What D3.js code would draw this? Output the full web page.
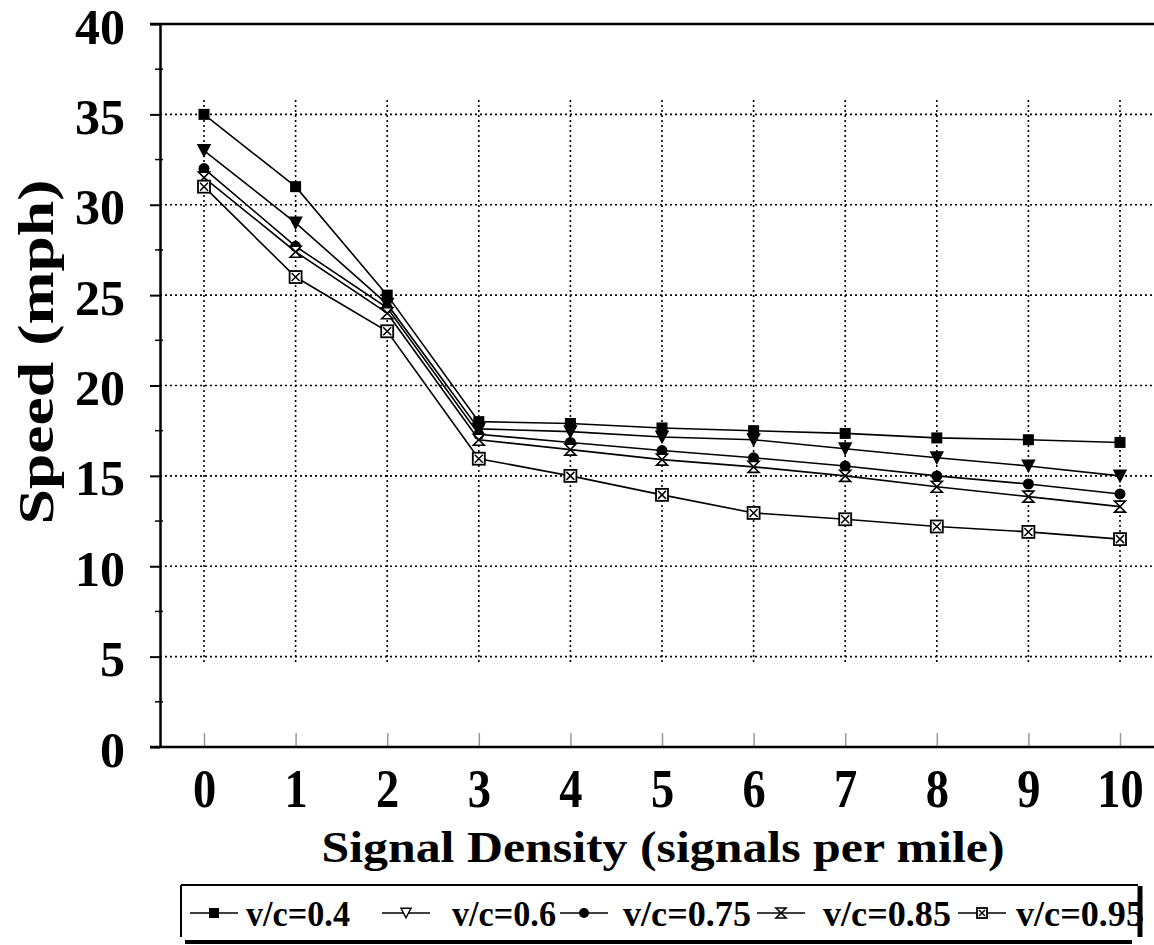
<!DOCTYPE html>
<html>
<head>
<meta charset="utf-8">
<script src="https://cdn.jsdelivr.net/npm/d3@7"></script>
<style>
  body { margin: 0; background: #fff; }
  text { font-family: "Liberation Serif", "Times New Roman", serif; font-weight: bold; fill: #000; }
</style>
</head>
<body>
<div id="chart"></div>
<script>
// data
const density = [0, 1, 2, 3, 4, 5, 6, 7, 8, 9, 10];
const vc04  = [35, 31, 25, 18, 17.9, 17.65, 17.5, 17.35, 17.1, 17.0, 16.85];
const vc06  = [33, 29, 24.5, 17.6, 17.45, 17.15, 17.0, 16.5, 16.0, 15.55, 15.0];
const vc075 = [32, 27.7, 24.3, 17.3, 16.85, 16.4, 16.0, 15.55, 15.0, 14.55, 14.0];
const vc085 = [31.5, 27.4, 24.0, 17.0, 16.45, 15.9, 15.5, 15.0, 14.4, 13.85, 13.3];
const vc095 = [31, 26, 23, 15.95, 15.0, 13.95, 12.95, 12.6, 12.2, 11.9, 11.5];
const seriesNames = ["v/c=0.4", "v/c=0.6", "v/c=0.75", "v/c=0.85", "v/c=0.95"];
const yTicks = [0, 5, 10, 15, 20, 25, 30, 35, 40];
const xTicks = [0, 1, 2, 3, 4, 5, 6, 7, 8, 9, 10];

const series = [vc04, vc06, vc075, vc085, vc095];
const markers = ["square", "triangle", "circle", "hourglass", "boxx"];

const W = 1154, H = 945;
const axisX = 160;

const svg = d3.select("#chart").append("svg")
  .attr("width", W)
  .attr("height", H);

const x = d3.scaleLinear().domain([0, 10]).range([204, 1120]);
const y = d3.scaleLinear().domain([0, 40]).range([747, 24]);

// dotted grid
svg.append("g").selectAll("line")
  .data(yTicks.filter(d => d > 0 && d < 40))
  .enter().append("line")
  .attr("x1", axisX).attr("x2", W)
  .attr("y1", d => y(d)).attr("y2", d => y(d))
  .attr("stroke", "#000").attr("stroke-width", 1.6)
  .attr("stroke-dasharray", "2,3");

svg.append("g").selectAll("line")
  .data(xTicks)
  .enter().append("line")
  .attr("x1", d => x(d)).attr("x2", d => x(d))
  .attr("y1", y(35.8)).attr("y2", y(4.7))
  .attr("stroke", "#000").attr("stroke-width", 1.6)
  .attr("stroke-dasharray", "2,3");

// top border
svg.append("line")
  .attr("x1", 150).attr("x2", W)
  .attr("y1", y(40)).attr("y2", y(40))
  .attr("stroke", "#000").attr("stroke-width", 2.5);

// y axis
const yAxis = svg.append("g")
  .attr("transform", "translate(" + axisX + ",0)")
  .call(d3.axisLeft(y).tickValues(yTicks).tickSize(10).tickSizeOuter(0).tickPadding(25));
yAxis.select(".domain").attr("stroke-width", 2.5);
yAxis.selectAll(".tick line").attr("stroke-width", 2);
yAxis.selectAll("text")
  .attr("font-size", 50)
  .attr("font-family", null)
  .attr("y", 3);

// minor ticks on y
svg.append("g").selectAll("line")
  .data(d3.range(2.5, 40, 5))
  .enter().append("line")
  .attr("x1", axisX - 5).attr("x2", axisX + 3)
  .attr("y1", d => y(d)).attr("y2", d => y(d))
  .attr("stroke", "#000").attr("stroke-width", 1.5);

// x axis
const xAxis = svg.append("g")
  .attr("transform", "translate(0," + y(0) + ")")
  .call(d3.axisBottom(x).tickValues(xTicks).tickSize(-14).tickSizeOuter(0).tickPadding(22));
xAxis.select(".domain").remove();
xAxis.selectAll(".tick line").attr("stroke", "#999").attr("stroke-width", 1.5);
xAxis.selectAll("text")
  .attr("font-size", 54)
  .attr("font-family", null)
  .attr("transform", "scale(0.86,1)");

svg.append("line")
  .attr("x1", 150).attr("x2", W)
  .attr("y1", y(0)).attr("y2", y(0))
  .attr("stroke", "#000").attr("stroke-width", 2.5);

// axis titles
svg.append("text")
  .attr("transform", "translate(53,352) rotate(-90)")
  .attr("text-anchor", "middle")
  .attr("font-size", 50)
  .attr("textLength", 345)
  .attr("lengthAdjust", "spacingAndGlyphs")
  .text("Speed (mph)");

svg.append("text")
  .attr("x", 663).attr("y", 862)
  .attr("text-anchor", "middle")
  .attr("font-size", 45)
  .attr("textLength", 683)
  .attr("lengthAdjust", "spacingAndGlyphs")
  .text("Signal Density (signals per mile)");

// marker drawing
function drawMarker(g, type, s, legend) {
  const a = s / 2;
  if (type === "square") {
    g.append("rect").attr("x", -a).attr("y", -a).attr("width", s).attr("height", s)
      .attr("fill", "#000");
  } else if (type === "triangle") {
    const h = s * 0.95;
    g.append("path")
      .attr("d", `M${-a},${-h / 2}L${a},${-h / 2}L0,${h / 2}Z`)
      .attr("fill", legend ? "#fff" : "#000").attr("stroke", "#000").attr("stroke-width", 1.5);
  } else if (type === "circle") {
    g.append("circle").attr("r", a).attr("fill", "#000");
  } else if (type === "hourglass") {
    g.append("path")
      .attr("d", `M${-a},${-a}L${a},${-a}L${-a},${a}L${a},${a}Z`)
      .attr("fill", "#fff").attr("stroke", "#000").attr("stroke-width", 1.6);
  } else {
    g.append("rect").attr("x", -a).attr("y", -a).attr("width", s).attr("height", s)
      .attr("fill", "#fff").attr("stroke", "#000").attr("stroke-width", 1.8);
    g.append("path")
      .attr("d", `M${-a + 2},${-a + 2}L${a - 2},${a - 2}M${a - 2},${-a + 2}L${-a + 2},${a - 2}`)
      .attr("stroke", "#000").attr("stroke-width", 1.5);
  }
}

const markerSize = [11, 12, 11, 11, 12];

const line = d3.line()
  .x((d, i) => x(density[i]))
  .y(d => y(d));

series.forEach(vals => {
  svg.append("path")
    .datum(vals)
    .attr("d", line)
    .attr("fill", "none")
    .attr("stroke", "#000")
    .attr("stroke-width", 1.6);
});

series.forEach((vals, k) => {
  svg.append("g").selectAll("g")
    .data(vals)
    .enter().append("g")
    .attr("transform", (d, i) => "translate(" + x(density[i]) + "," + y(d) + ")")
    .each(function() { drawMarker(d3.select(this), markers[k], markerSize[k], false); });
});

// legend box with shadow edges
const lg = svg.append("g");
lg.append("line").attr("x1", 181).attr("x2", 1138).attr("y1", 885).attr("y2", 885)
  .attr("stroke", "#000").attr("stroke-width", 2);
lg.append("line").attr("x1", 181).attr("x2", 181).attr("y1", 885).attr("y2", 937)
  .attr("stroke", "#000").attr("stroke-width", 2);
lg.append("line").attr("x1", 1140).attr("x2", 1140).attr("y1", 886).attr("y2", 937)
  .attr("stroke", "#000").attr("stroke-width", 5);
lg.append("line").attr("x1", 185).attr("x2", 1132).attr("y1", 942).attr("y2", 942)
  .attr("stroke", "#000").attr("stroke-width", 4);

const lineStart = [190, 382, 560, 757, 958];
const textStart = [246, 452, 623, 823, 1016];

seriesNames.forEach((name, k) => {
  const it = lg.append("g");
  it.append("line")
    .attr("x1", lineStart[k]).attr("x2", lineStart[k] + 48)
    .attr("y1", 913).attr("y2", 913)
    .attr("stroke", "#000").attr("stroke-width", 1.6);
  const m = it.append("g").attr("transform", "translate(" + (lineStart[k] + 24) + ",913)");
  drawMarker(m, markers[k], 10, true);
  it.append("text")
    .attr("x", textStart[k]).attr("y", 926)
    .attr("font-size", 35)
    .attr("textLength", k < 2 ? 104 : 128)
    .attr("lengthAdjust", "spacingAndGlyphs")
    .text(name);
});
</script>
</body>
</html>
